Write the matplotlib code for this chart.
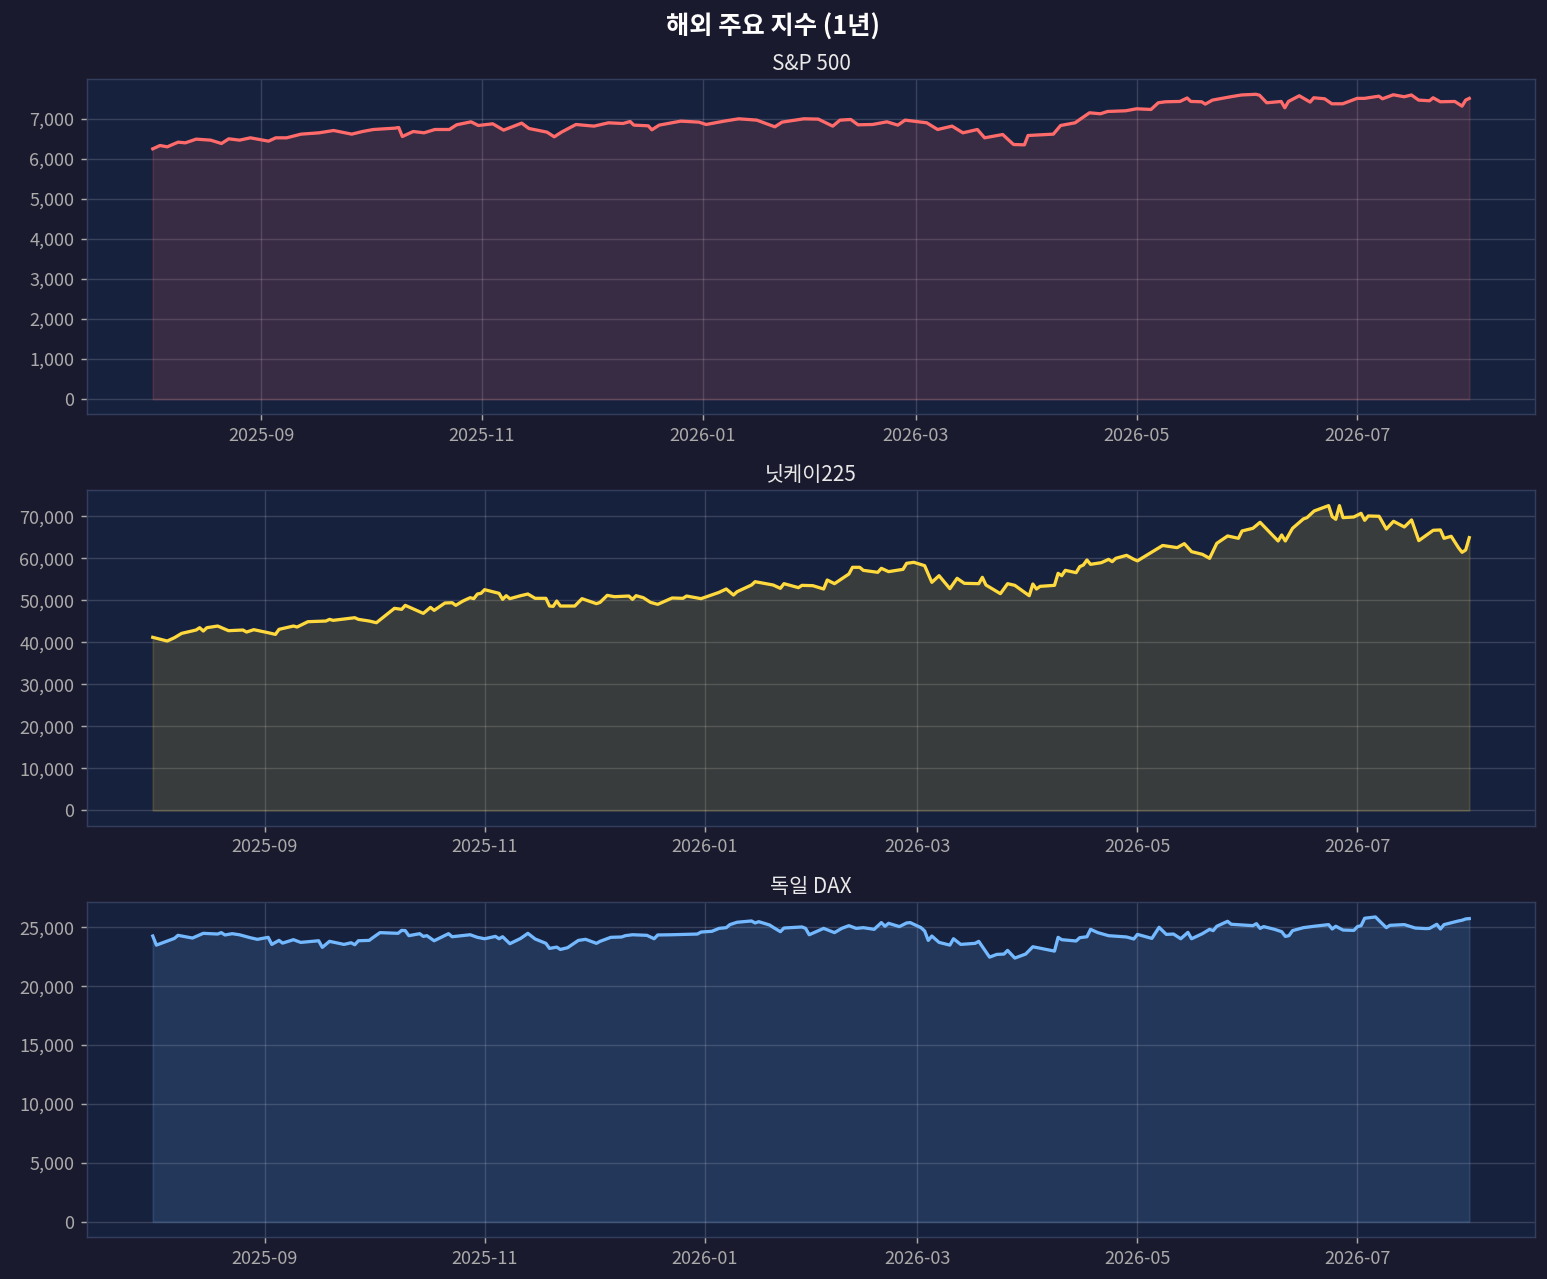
import matplotlib
matplotlib.use("Agg")
import matplotlib.pyplot as plt
import matplotlib.dates as mdates
from matplotlib.ticker import FuncFormatter
import pandas as pd

plt.rcParams['font.family'] = ['Noto Sans CJK KR', 'DejaVu Sans']

start = pd.Timestamp('2025-08-01')

# S&P 500 (days since start, index level)
sp_day = [1, 3, 5, 8, 10, 13, 17, 20, 22, 25, 28,
          33, 35, 38, 42, 47, 51, 56, 59,
          62, 68, 69, 70, 73, 76, 79, 83, 85, 89, 91,
          95, 98, 103, 105, 110, 112, 114, 118,
          123, 127, 131, 133, 134, 138, 139, 141, 147, 152,
          154, 159, 163, 168, 173, 175, 181,
          185, 189, 191, 194, 196, 200, 204, 207, 209,
          215, 218, 222, 225, 229, 231, 236, 239, 242,
          243, 250, 252, 256, 260, 263, 265, 270,
          273, 277, 279, 281, 285, 287, 288, 291, 292, 294, 299, 302,
          306, 307, 309, 313, 314, 315, 318, 321, 322, 325, 327, 330,
          334, 336, 340, 341, 344, 347, 349, 351, 354, 355, 357, 361, 363, 364,
          365]
sp_val = [6250, 6333, 6300, 6417, 6400, 6492, 6467, 6383, 6500, 6467, 6525,
          6442, 6525, 6525, 6617, 6650, 6708, 6617, 6683,
          6733, 6767, 6783, 6558, 6683, 6650, 6733, 6733, 6850, 6925, 6833,
          6875, 6717, 6892, 6758, 6667, 6550, 6667, 6858,
          6817, 6900, 6883, 6933, 6842, 6825, 6725, 6842, 6942, 6917,
          6858, 6942, 7000, 6967, 6800, 6917, 7000,
          6992, 6817, 6967, 6983, 6850, 6858, 6925, 6842, 6967,
          6900, 6733, 6817, 6650, 6733, 6525, 6608, 6358, 6350,
          6583, 6617, 6833, 6900, 7150, 7125, 7183, 7200,
          7250, 7233, 7400, 7425, 7433, 7520, 7433, 7425, 7367, 7467, 7550, 7595,
          7612, 7590, 7400, 7433, 7275, 7433, 7575, 7417, 7525, 7500, 7375, 7375,
          7510, 7510, 7565, 7500, 7600, 7550, 7595, 7467, 7450, 7525, 7425, 7433, 7317, 7467,
          7510]

# Nikkei 225
nk_day = [0, 4, 6, 8, 12, 13, 14, 15, 18, 21, 25, 26, 28,
          32, 34, 35, 39, 40, 43, 48, 49, 50, 56, 57, 60,
          62, 67, 69, 70, 75, 77, 78, 81, 83, 84, 86, 88, 89, 90, 91,
          92, 96, 97, 98, 99, 102, 104, 106, 109, 110, 111, 112, 113, 117, 119,
          123, 124, 126, 128, 132, 133, 134, 136, 138, 140, 144, 147, 148, 152,
          157, 159, 161, 162, 166, 167, 172, 174, 175, 179, 180, 183,
          186, 187, 189, 193, 194, 196, 197, 201, 202, 204, 208, 209, 211,
          214, 216, 218, 221, 223, 225, 229, 230, 231, 235, 237, 239,
          243, 244, 245, 246, 250, 251, 252, 253, 256, 257, 258, 259, 260, 263, 265, 266, 267, 270, 272,
          273, 280, 284, 286, 288, 291, 293, 295, 298, 301, 302,
          305, 307, 312, 313, 314, 316, 319, 320, 322, 326, 327, 328, 329, 330, 333,
          335, 336, 337, 340, 342, 344, 347, 349, 351, 355, 357, 358, 360, 362, 363, 364,
          365]
nk_val = [41200, 40320, 41110, 42140, 42940, 43490, 42700, 43490, 43890, 42780, 42940, 42460, 43020,
          42300, 41900, 43100, 43890, 43650, 44920, 45080, 45480, 45240, 45870, 45480, 45080,
          44680, 48100, 47860, 48810, 46900, 48330, 47620, 49370, 49440, 48810, 49840, 50630, 50400, 51510, 51670,
          52540, 51670, 50240, 51110, 50400, 51110, 51510, 50480, 50480, 48650, 48570, 49840, 48650, 48650, 50400,
          49210, 49520, 51190, 50870, 51030, 50240, 51110, 50630, 49520, 49050, 50560, 50480, 51030, 50400,
          51900, 52700, 51270, 52060, 53650, 54440, 53650, 52860, 53970, 53020, 53570, 53490,
          52700, 54840, 53970, 56270, 57860, 57860, 57140, 56670, 57620, 56830, 57380, 58810, 59050,
          58250, 54290, 55870, 52780, 55240, 54050, 53970, 55480, 53650, 51590, 53970, 53570,
          51110, 53890, 52700, 53330, 53570, 56430, 55870, 57140, 56590, 58020, 58410, 59600, 58570, 58970, 59760, 59210, 60000, 60710, 59760,
          59400, 63060, 62540, 63490, 61590, 60950, 60000, 63570, 65320, 64760, 66510,
          67140, 68570, 64130, 65560, 64130, 67140, 69370, 69680, 71270, 72540, 69920, 69290, 72540, 69680, 69840,
          70710, 69050, 70080, 70000, 66980, 68810, 67460, 69130, 64210, 66670, 66750, 64760, 65240, 62540, 61430, 61980,
          64920]

# DAX
dax_day = [0, 1, 6, 7, 11, 14, 18, 19, 20, 22, 24, 27, 29,
           32, 33, 35, 36, 39, 41, 46, 47, 49, 53, 55, 56, 57, 60,
           61, 63, 68, 69, 70, 71, 74, 75, 76, 78, 82, 83, 88, 90,
           92, 95, 96, 97, 99, 102, 104, 106, 109, 110, 112, 113, 115, 118, 120,
           123, 124, 127, 130, 131, 133, 137, 139, 140, 144, 151, 152,
           155, 157, 159, 160, 162, 166, 167, 168, 171, 172, 174, 175, 180, 181, 182,
           186, 189, 191, 193, 195, 197, 200, 202, 203, 204, 207, 209, 210,
           213, 214, 215, 216, 218, 221, 222, 224, 228, 229, 232, 234, 236, 237, 239, 242,
           244, 250, 251, 252, 256, 257, 259, 260, 262, 265, 270, 272,
           273, 277, 279, 281, 283, 285, 287, 288, 291, 293, 294, 295, 298, 299, 302,
           305, 306, 307, 308, 311, 313, 314, 315, 316, 319, 322, 326, 327, 328, 330, 333,
           334, 335, 336, 339, 340, 342, 343, 347, 350, 353, 354, 356, 357, 358, 362, 363, 364,
           365]
dax_val = [24260, 23490, 24060, 24320, 24090, 24490, 24430, 24550, 24350, 24460, 24370, 24120, 23980,
           24150, 23550, 23890, 23660, 23950, 23720, 23860, 23300, 23810, 23550, 23690, 23520, 23860, 23890,
           24120, 24550, 24490, 24740, 24720, 24290, 24460, 24230, 24290, 23860, 24460, 24200, 24370, 24150,
           24030, 24230, 24030, 24200, 23610, 24060, 24490, 24010, 23640, 23210, 23320, 23120, 23270, 23890, 23980,
           23640, 23810, 24150, 24180, 24290, 24370, 24320, 24030, 24350, 24370, 24430, 24600,
           24660, 24910, 24970, 25230, 25430, 25540, 25370, 25480, 25200, 25000, 24630, 24940, 25030, 24910, 24370,
           24910, 24550, 24910, 25140, 24910, 24970, 24830, 25400, 25090, 25340, 25060, 25370, 25400,
           24970, 24690, 23890, 24260, 23720, 23490, 24030, 23550, 23640, 23810, 22470, 22700, 22730, 23040, 22390, 22730,
           23350, 22980, 24150, 23950, 23840, 24120, 24200, 24830, 24550, 24290, 24180, 24010,
           24400, 24060, 25000, 24400, 24430, 24030, 24570, 24030, 24460, 24830, 24720, 25090, 25510, 25260, 25200,
           25140, 25310, 24910, 25060, 24830, 24630, 24230, 24290, 24720, 24970, 25090, 25230, 24860, 25090, 24770, 24740,
           25060, 25140, 25770, 25880, 25570, 24970, 25170, 25230, 24940, 24890, 24910, 25260, 24860, 25230, 25540, 25600, 25710,
           25740]

titles = ['S&P 500', '닛케이225', '독일 DAX']
colors = ['#ff6b6b', '#ffd93d', '#74b9ff']
series = [(sp_day, sp_val), (nk_day, nk_val), (dax_day, dax_val)]

bg = '#1a1a2e'
axbg = '#16213e'

fig, axes = plt.subplots(3, 1, figsize=(1547 / 130, 1279 / 130), dpi=130)
fig.patch.set_facecolor(bg)
fig.subplots_adjust(left=0.0562, right=0.9923, top=0.9382, bottom=0.0328, hspace=0.2266)

for ax, (days, vals), title, c in zip(axes, series, titles, colors):
    dates = start + pd.to_timedelta(days, unit='D')
    ax.set_facecolor(axbg)
    ax.fill_between(dates, vals, color=c, alpha=0.15)
    ax.plot(dates, vals, color=c, lw=1.8)
    ax.set_title(title, color='#e8e8e8', fontsize=11.5, pad=5)
    ax.grid(True, color='white', alpha=0.15, lw=0.8)
    ax.set_axisbelow(True)
    ax.xaxis.set_major_locator(mdates.MonthLocator(bymonth=(1, 3, 5, 7, 9, 11)))
    ax.xaxis.set_major_formatter(mdates.DateFormatter('%Y-%m'))
    ax.yaxis.set_major_formatter(FuncFormatter(lambda v, p: f'{v:,.0f}'))
    ax.tick_params(colors='#aaaaaa', labelsize=10)
    for s in ax.spines.values():
        s.set_color('#333d5c')

fig.suptitle('해외 주요 지수 (1년)', color='white', fontsize=14, fontweight='bold', y=0.989)

fig.savefig('out.png', dpi=130, facecolor=bg)
